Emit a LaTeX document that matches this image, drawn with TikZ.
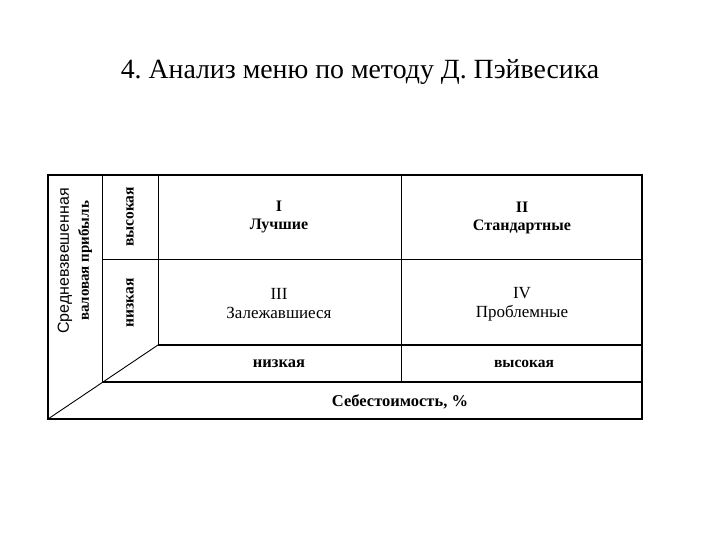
\documentclass[tikz,border=0pt]{standalone}
\usepackage{fontspec}
\setmainfont{Liberation Serif}
\newfontfamily\sansfont{Liberation Sans}
\usepackage{tikz}
\usetikzlibrary{positioning,calc}
\frenchspacing

\begin{document}
\begin{tikzpicture}[x=1pt, y=-1pt,
    every node/.style={font=\fontsize{17}{19}\selectfont, align=center},
    heavy/.style={font=\fontsize{16}{18}\selectfont\bfseries},
    axislabel/.style={font=\fontsize{15.5}{17}\selectfont\bfseries},
    grid/.style={line width=0.9pt}]
    \useasboundingbox (0,0) rectangle (720,540);
    \node (title) at (360,72) {\fontsize{27.8}{32}\selectfont 4. Анализ меню по методу Д. Пэйвесика};
    % frame and grid
    \coordinate (tl) at (48,175);
    \coordinate (br) at (642,419);
    \coordinate (corner) at (158,345);
    \draw[grid, line width=1.2pt] (tl) rectangle (br);
    \draw[grid] (102,175) -- (102,382);
    \draw[grid] (158,175) -- (corner);
    \draw[grid] (102,259) -- (642,259);
    \draw[grid, line width=1.1pt] (corner) -- (642,345);
    \draw[grid, line width=1.1pt] (102,382) -- (642,382);
    \draw[grid] (401,175) -- (401,382);
    \draw[grid] (48,419) -- (corner);
    % quadrants
    \node[heavy] (best) at (279,217) {I\\Лучшие};
    \node[heavy] (std) at (522,218) {II\\Стандартные};
    \node (stale) at (279,304) {III\\Залежавшиеся};
    \node (prob) at (522,304) {IV\\Проблемные};
    % axes
    \node[axislabel, font=\fontsize{16.5}{18}\selectfont\bfseries] (xlow) at (279,364) {низкая};
    \node[axislabel] (xhigh) at (524,364) {высокая};
    \node[axislabel, font=\fontsize{16.5}{18}\selectfont\bfseries] (xaxis) at (400,402) {Себестоимость, \%};
    \node[axislabel, rotate=90] (yhigh) at (130,217) {высокая};
    \node[axislabel, rotate=90] (ylow) at (130,303) {низкая};
    \node[rotate=90, font=\fontsize{16}{20}\selectfont] (yaxis) at (75,261) {{\sansfont Средневзвешенная}\\\textbf{\fontsize{15}{20}\selectfont валовая прибыль}};
\end{tikzpicture}
\end{document}
